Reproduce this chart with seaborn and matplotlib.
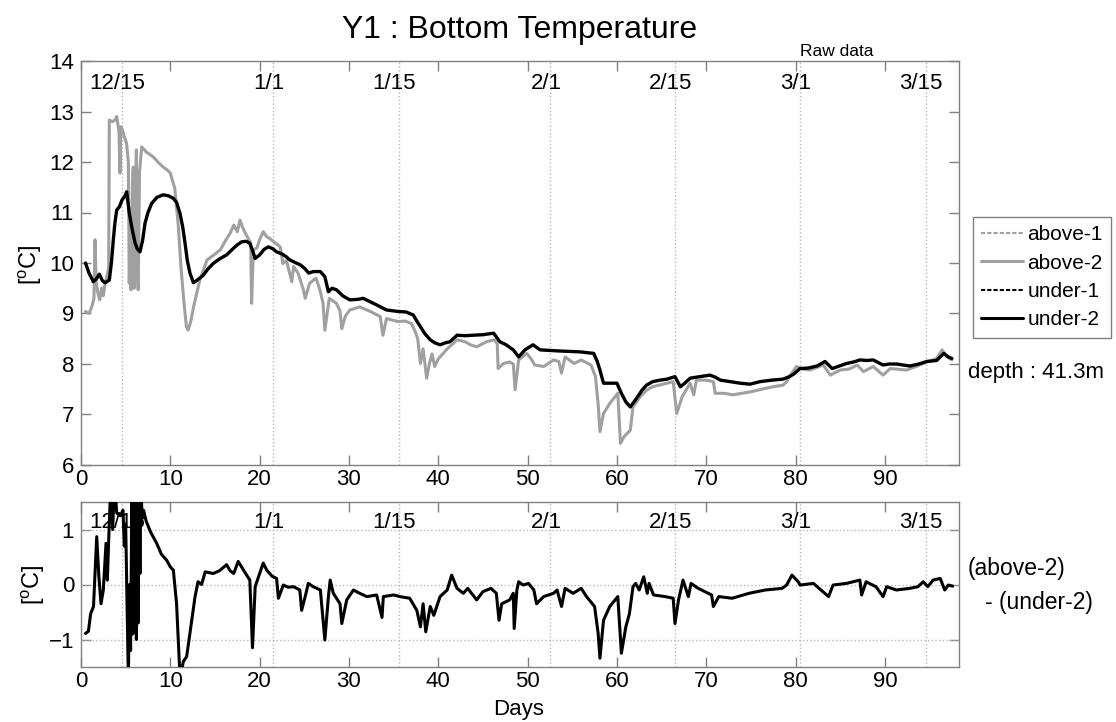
import numpy as np
import pandas as pd
import matplotlib
matplotlib.use("Agg")
import matplotlib.pyplot as plt
from matplotlib.lines import Line2D
import seaborn as sns

# ---------------- data ----------------
date_days = [4.55, 21.55, 35.55, 52.55, 66.55, 80.55, 94.55]
date_labels = ['12/15', '1/1', '1/15', '2/1', '2/15', '3/1', '3/15']

under2_day = [0.5, 0.9, 1.38, 1.7, 2.05, 2.4, 2.69, 3.17, 3.4, 3.62, 3.8, 4.0, 4.29, 4.6, 4.9, 5.11, 5.4, 5.67,
              6.05, 6.3, 6.6, 6.9, 7.17, 7.5, 7.91, 8.5, 9.2, 9.8, 10.34, 10.7, 11.09, 11.4, 11.65, 11.9, 12.2,
              12.58, 13.0, 13.7, 14.2, 14.8, 15.5, 16.3, 17.0, 17.5, 18.0, 18.5, 18.9, 19.2, 19.5, 20.0, 20.5,
              20.98, 21.5, 21.9, 22.5, 23.0, 23.4, 24.2, 24.5, 25.0, 25.5, 26.0, 26.8, 27.3, 27.7, 28.1, 28.6,
              29.3, 30.1, 31.0, 31.6, 32.3, 33.1, 34.2, 35.5, 36.4, 37.2, 37.6, 38.0, 38.5, 39.1, 39.6, 40.2,
              40.8, 41.3, 42.1, 43.0, 43.9, 45.0, 46.2, 46.9, 47.6, 48.4, 49.0, 49.7, 50.6, 51.4, 52.3, 53.3,
              54.5, 55.9, 57.4, 57.8, 58.1, 58.5, 59.2, 60.0, 60.5, 61.0, 61.5, 62.2, 62.8, 63.3, 64.0, 64.8,
              65.6, 66.5, 67.1, 67.6, 68.2, 69.3, 70.4, 71.0, 71.6, 72.7, 73.8, 74.9, 76.0, 77.3, 78.6, 79.3,
              79.8, 80.5, 81.4, 82.4, 83.3, 84.1, 84.9, 85.7, 86.5, 87.2, 88.0, 88.7, 89.8, 90.5, 91.3, 92.8,
              93.8, 94.7, 95.8, 96.6, 97.1, 97.5]
under2_temp = [10.0, 9.8, 9.63, 9.68, 9.78, 9.65, 9.61, 9.66, 10.0, 10.46, 10.8, 11.05, 11.11, 11.25, 11.32, 11.41,
               11.0, 10.72, 10.40, 10.28, 10.22, 10.45, 10.79, 11.0, 11.18, 11.3, 11.35, 11.33, 11.28, 11.2, 10.98,
               10.7, 10.39, 10.05, 9.80, 9.61, 9.66, 9.76, 9.88, 9.99, 10.08, 10.16, 10.28, 10.36, 10.42, 10.43,
               10.39, 10.25, 10.09, 10.16, 10.27, 10.32, 10.28, 10.22, 10.18, 10.12, 10.06, 9.99, 9.97, 9.9, 9.80,
               9.83, 9.83, 9.73, 9.43, 9.5, 9.47, 9.35, 9.27, 9.28, 9.30, 9.24, 9.17, 9.07, 9.04, 9.03, 8.97, 8.85,
               8.74, 8.6, 8.48, 8.42, 8.38, 8.42, 8.44, 8.57, 8.56, 8.57, 8.58, 8.61, 8.44, 8.38, 8.28, 8.14, 8.28,
               8.38, 8.28, 8.27, 8.26, 8.25, 8.24, 8.21, 8.05, 7.88, 7.62, 7.62, 7.62, 7.42, 7.25, 7.15, 7.32, 7.48,
               7.58, 7.65, 7.68, 7.70, 7.75, 7.55, 7.62, 7.72, 7.75, 7.78, 7.74, 7.68, 7.65, 7.62, 7.60, 7.65, 7.68,
               7.70, 7.75, 7.80, 7.91, 7.92, 7.96, 8.05, 7.91, 7.96, 8.01, 8.04, 8.08, 8.07, 8.08, 7.98, 8.0, 8.00,
               7.96, 8.0, 8.05, 8.07, 8.21, 8.14, 8.11]

above2_day = [0.5, 0.9, 1.2, 1.45, 1.57, 1.7, 1.9, 2.1, 2.3, 2.5, 2.7, 2.9, 3.1, 3.17, 3.5, 3.8, 4.0, 4.25, 4.37,
              4.45, 4.6, 4.85, 5.1, 5.3, 5.4, 5.5, 5.6, 5.75, 5.85, 5.95, 6.05, 6.2, 6.3, 6.4, 6.55, 6.8, 7.3,
              7.7, 8.1, 8.6, 9.2, 9.6, 10.0, 10.5, 10.9, 11.2, 11.5, 11.8, 12.0, 12.3, 12.6, 13.3, 14.1, 14.8,
              15.6, 16.2, 16.7, 17.1, 17.5, 17.8, 18.1, 18.4, 18.8, 19.0, 19.1, 19.3, 19.7, 20.0, 20.4, 20.8,
              21.1, 21.6, 22.3, 22.6, 23.0, 23.6, 23.8, 24.3, 24.9, 25.1, 25.6, 26.3, 26.7, 27.1, 27.3, 27.8,
              28.6, 29.0, 29.2, 29.6, 30.1, 31.2, 32.4, 33.5, 33.8, 34.2, 35.5, 36.3, 37.0, 37.4, 37.7, 38.0,
              38.3, 38.7, 39.0, 39.3, 39.6, 40.0, 40.5, 41.0, 41.5, 42.1, 43.0, 43.6, 44.3, 45.4, 46.3, 46.6,
              46.7, 47.3, 48.0, 48.4, 48.6, 49.0, 49.9, 50.4, 50.8, 51.8, 52.9, 53.5, 53.8, 54.2, 55.2, 56.0,
              57.1, 57.6, 57.9, 58.1, 58.5, 59.2, 60.1, 60.4, 60.8, 61.5, 61.8, 62.6, 63.3, 64.0, 65.6, 66.3,
              66.7, 67.3, 67.8, 68.2, 68.6, 68.9, 70.0, 70.8, 71.0, 72.0, 73.0, 74.0, 75.0, 76.7, 77.5, 78.6,
              79.0, 79.5, 80.1, 80.8, 81.6, 83.1, 83.9, 85.0, 86.0, 86.9, 87.6, 88.7, 89.8, 90.6, 92.4, 93.5,
              94.3, 95.8, 96.4, 96.9, 97.5]
above2_temp = [9.04, 9.0, 9.13, 9.3, 10.46, 9.6, 9.4, 9.27, 9.5, 9.35, 9.6, 9.73, 9.9, 12.83, 12.8, 12.83, 12.9,
               12.6, 11.78, 12.7, 12.65, 12.5, 12.37, 12.0, 9.6, 10.5, 9.47, 11.5, 11.9, 9.5, 11.0, 12.24, 10.0,
               9.47, 11.8, 12.3, 12.2, 12.15, 12.1, 12.0, 11.9, 11.85, 11.78, 11.48, 10.72, 9.9, 9.27, 8.74, 8.67,
               8.85, 9.13, 9.66, 10.06, 10.15, 10.26, 10.45, 10.59, 10.75, 10.62, 10.85, 10.7, 10.59, 10.46, 10.4,
               9.2, 10.26, 10.3, 10.46, 10.62, 10.52, 10.49, 10.42, 10.32, 9.99, 10.05, 9.63, 9.93, 9.8, 9.47, 9.3,
               9.6, 9.7, 9.5, 9.2, 8.67, 9.3, 9.2, 9.05, 8.7, 8.95, 9.07, 9.13, 9.04, 8.94, 8.57, 8.9, 8.84, 8.85,
               8.8, 8.65, 8.5, 8.01, 8.3, 7.72, 8.0, 8.2, 7.95, 8.1, 8.2, 8.3, 8.38, 8.48, 8.44, 8.38, 8.34, 8.44,
               8.48, 8.4, 7.91, 8.01, 8.04, 8.0, 7.49, 8.08, 8.21, 8.1, 7.98, 7.95, 8.08, 8.05, 7.82, 8.14, 8.01,
               8.08, 7.98, 7.75, 7.2, 6.66, 7.02, 7.22, 7.42, 6.43, 6.56, 6.69, 7.15, 7.35, 7.48, 7.55, 7.62, 7.65,
               7.02, 7.35, 7.5, 7.62, 7.39, 7.68, 7.68, 7.65, 7.42, 7.42, 7.39, 7.42, 7.45, 7.52, 7.55, 7.58, 7.65,
               7.8, 7.95, 7.9, 7.88, 7.98, 7.78, 7.88, 7.9, 7.98, 7.85, 7.95, 7.78, 7.91, 7.88, 7.95, 8.01, 8.11,
               8.28, 8.15, 8.08]

diff_day = [0.5, 0.83, 1.08, 1.4, 1.76, 2.0, 2.24, 2.5, 2.8, 2.95, 3.1, 3.35, 3.55, 3.75, 4.0, 4.4, 4.7, 4.85,
            5.0, 5.3, 5.45, 5.55, 5.7, 5.8, 5.9, 6.0, 6.1, 6.2, 6.3, 6.4, 6.5, 6.6, 6.7, 6.85, 7.0, 7.3, 7.8,
            8.47, 9.0, 9.6, 10.0, 10.34, 10.7, 11.09, 11.46, 11.83, 12.4, 12.77, 13.1, 13.5, 13.9, 14.8, 15.5,
            16.3, 16.7, 17.1, 17.6, 18.2, 18.9, 19.2, 19.5, 20.0, 20.4, 20.8, 21.4, 21.9, 22.1, 22.65, 23.2,
            23.8, 24.5, 24.7, 25.1, 25.45, 26.0, 26.8, 27.3, 27.7, 27.9, 28.25, 29.0, 29.2, 29.75, 30.5, 31.2,
            32.0, 33.1, 33.7, 33.85, 35.0, 35.7, 36.8, 37.6, 38.0, 38.3, 38.6, 39.1, 39.5, 40.2, 41.0, 41.5,
            42.1, 42.8, 43.3, 44.3, 45.0, 45.9, 46.5, 46.8, 47.1, 48.0, 48.4, 48.5, 48.8, 49.0, 49.5, 50.1,
            50.7, 51.0, 51.8, 52.9, 53.3, 53.8, 54.2, 55.1, 56.0, 56.6, 57.5, 57.9, 58.1, 58.5, 59.2, 60.1,
            60.5, 61.0, 61.4, 61.8, 62.1, 62.5, 63.0, 63.4, 63.6, 64.1, 65.4, 66.3, 66.5, 66.9, 67.4, 68.0,
            68.3, 69.1, 70.6, 70.8, 71.4, 72.9, 74.8, 76.6, 78.5, 79.0, 79.6, 80.3, 80.5, 82.0, 83.7, 84.2,
            85.7, 87.2, 87.4, 87.9, 89.0, 89.8, 90.2, 91.3, 92.8, 93.7, 94.3, 94.8, 95.4, 96.2, 96.7, 97.1, 97.6]
diff_val = [-0.89, -0.85, -0.53, -0.4, 0.87, 0.15, -0.35, -0.1, 0.75, 0.08, 0.81, 1.9, 1.0, 1.9, 1.3, 1.25, 1.35,
            0.7, 1.1, -1.7, 0.0, -1.2, 1.7, -0.9, 1.8, -0.8, 1.8, -1.0, 1.8, -0.7, 1.7, 0.2, 1.8, 1.2, 1.35, 1.15,
            0.95, 0.75, 0.55, 0.44, 0.32, 0.26, -0.35, -1.7, -1.4, -1.31, -0.65, -0.22, 0.05, 0.0, 0.23, 0.2,
            0.25, 0.36, 0.25, 0.2, 0.42, 0.26, 0.08, -1.15, -0.04, 0.2, 0.39, 0.26, 0.15, 0.11, -0.25, -0.01,
            -0.05, -0.04, -0.1, -0.47, -0.22, 0.02, -0.04, -0.1, -1.01, -0.22, 0.08, -0.16, -0.35, -0.71, -0.28,
            -0.1, -0.16, -0.22, -0.19, -0.6, -0.22, -0.19, -0.22, -0.25, -0.47, -0.77, -0.35, -0.86, -0.4, -0.56,
            -0.22, -0.1, 0.17, -0.07, -0.16, -0.07, -0.28, -0.13, -0.07, -0.16, -0.65, -0.35, -0.28, -0.16, -0.8,
            -0.1, 0.05, -0.01, 0.02, -0.1, -0.35, -0.22, -0.16, -0.1, -0.4, -0.07, -0.16, -0.07, -0.22, -0.4,
            -0.89, -1.34, -0.65, -0.4, -0.22, -1.25, -0.77, -0.53, -0.04, 0.02, -0.1, 0.14, -0.16, 0.02, -0.19,
            -0.22, -0.25, -0.71, -0.28, 0.08, -0.22, 0.02, -0.07, -0.19, -0.4, -0.22, -0.25, -0.16, -0.1, -0.07,
            -0.01, 0.17, 0.05, -0.01, 0.02, -0.22, -0.01, 0.02, 0.08, -0.19, 0.05, -0.04, -0.22, -0.04, -0.1,
            -0.07, -0.04, 0.05, -0.04, 0.08, 0.11, -0.1, -0.01, -0.03]

top_yticks = [6, 7, 8, 9, 10, 11, 12, 13, 14]
bot_yticks = [-1, 0, 1]
x_ticks = [0, 10, 20, 30, 40, 50, 60, 70, 80, 90]
legend_labels = ['above-1', 'above-2', 'under-1', 'under-2']

# ---------------- style ----------------
sns.set_theme(style='white')
plt.rcParams['font.family'] = ['Liberation Sans', 'DejaVu Sans']
plt.rcParams['mathtext.fontset'] = 'custom'
plt.rcParams['mathtext.rm'] = 'Liberation Sans'
plt.rcParams['mathtext.it'] = 'Liberation Sans'
plt.rcParams['text.color'] = 'black'
plt.rcParams['axes.labelcolor'] = 'black'
plt.rcParams['xtick.color'] = 'black'
plt.rcParams['ytick.color'] = 'black'
plt.rcParams['legend.labelcolor'] = 'black'

GRAY = '#a0a0a0'
SPINE = '#808080'
GRID = '#b8b8b8'
FS = 16

W, H = 1116, 722
fig = plt.figure(figsize=(W / 100, H / 100), dpi=100)
fig.patch.set_facecolor('white')


def fr(x0, y0, x1, y1):
    return [x0 / W, 1 - y1 / H, (x1 - x0) / W, (y1 - y0) / H]


ax1 = fig.add_axes(fr(81, 61, 959, 465))
ax2 = fig.add_axes(fr(81, 502, 959, 667))

df_a2 = pd.DataFrame({'day': above2_day, 'temp': above2_temp})
df_u2 = pd.DataFrame({'day': under2_day, 'temp': under2_temp})
df_d = pd.DataFrame({'day': diff_day, 'val': diff_val})

sns.lineplot(data=df_a2, x='day', y='temp', ax=ax1, color=GRAY, lw=2.2,
             estimator=None, sort=False, zorder=3)
sns.lineplot(data=df_u2, x='day', y='temp', ax=ax1, color='black', lw=2.4,
             estimator=None, sort=False, zorder=4)
sns.lineplot(data=df_d, x='day', y='val', ax=ax2, color='black', lw=2.2,
             estimator=None, sort=False, zorder=4)

for ax, ylim, yt in [(ax1, (6, 14), top_yticks), (ax2, (-1.5, 1.5), bot_yticks)]:
    ax.set_xlim(0, 98.3)
    ax.set_ylim(*ylim)
    ax.set_xticks(x_ticks)
    ax.set_yticks(yt)
    ax.set_xlabel('')
    ax.set_ylabel('')
    for s in ax.spines.values():
        s.set_color(SPINE)
        s.set_linewidth(1.0)
        s.set_visible(True)
    ax.tick_params(direction='in', length=7, width=1, color=SPINE,
                   top=True, right=True, bottom=True, left=True,
                   labelsize=FS, labelcolor='black')
    ax.tick_params(axis='x', pad=3)
    ax.tick_params(axis='y', pad=5)
    for d in date_days:
        ax.axvline(d, color=GRID, ls=':', lw=1, zorder=1)

for yv in bot_yticks:
    ax2.axhline(yv, color=GRID, ls=':', lw=1, zorder=1)

for d, lab in zip(date_days, date_labels):
    ax1.text(d - 0.5, 13.56, lab, ha='center', va='center', fontsize=FS, zorder=1, color='black')
    ax2.text(d - 0.5, 1.13, lab, ha='center', va='center', fontsize=FS, zorder=1, color='black')

# title & annotations
fig.text(520 / W, 1 - 30 / H, 'Y1 : Bottom Temperature', ha='center', va='center', fontsize=23, color='black')
fig.text(837 / W, 1 - 52 / H, 'Raw data', ha='center', va='center', fontsize=12.5, color='black')
fig.text(30 / W, 1 - 265 / H, r'[$^{\mathrm{o}}$C]', rotation=90, ha='center', va='center', fontsize=17, color='black')
fig.text(33 / W, 1 - 585 / H, r'[$^{\mathrm{o}}$C]', rotation=90, ha='center', va='center', fontsize=17, color='black')
fig.text(519 / W, 1 - 710 / H, 'Days', ha='center', va='center', fontsize=16, color='black')
fig.text(968 / W, 1 - 373 / H, 'depth : 41.3m', ha='left', va='center', fontsize=16, color='black')
fig.text(968 / W, 1 - 568 / H, '(above-2)', ha='left', va='center', fontsize=16.5, color='black')
fig.text(985 / W, 1 - 602 / H, '- (under-2)', ha='left', va='center', fontsize=16.5, color='black')

handles = [Line2D([], [], color=GRAY, ls=(0, (2, 1)), lw=1.5),
           Line2D([], [], color=GRAY, ls='-', lw=2.2),
           Line2D([], [], color='black', ls=(0, (2, 1)), lw=1.5),
           Line2D([], [], color='black', ls='-', lw=2.2)]
leg = fig.legend(handles, legend_labels, loc='upper left',
                 bbox_to_anchor=(973 / W, 1 - 217 / H), bbox_transform=fig.transFigure,
                 borderaxespad=0, fontsize=15, frameon=True, fancybox=False,
                 framealpha=1, edgecolor=SPINE, handlelength=2.0, handletextpad=0.2,
                 labelspacing=0.45, borderpad=0.4)
leg.get_frame().set_linewidth(1.0)
for t in leg.get_texts():
    t.set_color('black')

fig.savefig('out.png', dpi=100, facecolor='white')
